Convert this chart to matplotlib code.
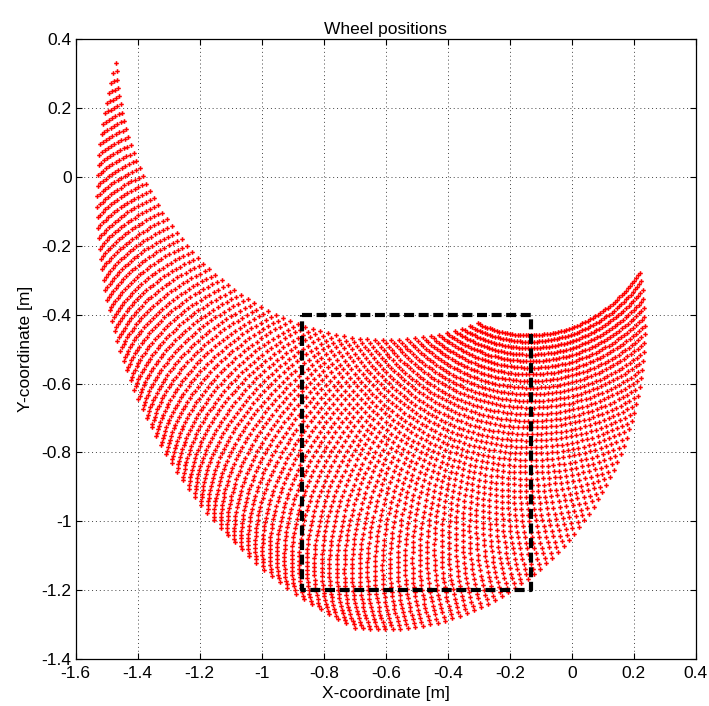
import numpy as np
import matplotlib
matplotlib.use("Agg")
import matplotlib.pyplot as plt

# two-link leg: hip position, link lengths [m]
hip_xy = [-0.1909, -0.0407]
link_len = [0.5729, 0.8586]
# link angles [rad] = c0 + c1*s + c2*t, with s, t swept 0..1
thigh_coef = [2.3951, 1.5623, -0.1110]
shank_coef = [3.1608, 1.4173, 1.8624]
n_steps = [66, 65]

# required wheel area (dashed box)
box_x = [-0.87, -0.13]
box_y = [-1.2, -0.4]

xticks = [-1.6, -1.4, -1.2, -1.0, -0.8, -0.6, -0.4, -0.2, 0.0, 0.2, 0.4]
xlabels = ["-1.6", "-1.4", "-1.2", "-1", "-0.8", "-0.6", "-0.4", "-0.2", "0", "0.2", "0.4"]
yticks = [-1.4, -1.2, -1.0, -0.8, -0.6, -0.4, -0.2, 0.0, 0.2, 0.4]
ylabels = ["-1.4", "-1.2", "-1", "-0.8", "-0.6", "-0.4", "-0.2", "0", "0.2", "0.4"]

plt.rcParams['font.family'] = ['Liberation Sans', 'DejaVu Sans']

s, t = np.meshgrid(np.linspace(0, 1, n_steps[0]), np.linspace(0, 1, n_steps[1]))
th1 = thigh_coef[0] + thigh_coef[1] * s + thigh_coef[2] * t
th2 = shank_coef[0] + shank_coef[1] * s + shank_coef[2] * t
wx = hip_xy[0] + link_len[0] * np.cos(th1) + link_len[1] * np.cos(th2)
wy = hip_xy[1] + link_len[0] * np.sin(th1) + link_len[1] * np.sin(th2)

fig = plt.figure(figsize=(7.09, 7.06), dpi=100)
ax = fig.add_axes([0.1068, 0.0666, 0.8745, 0.8775])

ax.plot(wx.ravel(), wy.ravel(), 'P', color='red', ms=3.3, mew=0, ls='none')
ax.plot([box_x[0], box_x[1], box_x[1], box_x[0], box_x[0]],
        [box_y[1], box_y[1], box_y[0], box_y[0], box_y[1]],
        color='black', lw=3, ls=(0, (2.4, 1.1)))

ax.set_xlim(-1.6, 0.4)
ax.set_ylim(-1.4, 0.4)
ax.set_xticks(xticks)
ax.set_xticklabels(xlabels)
ax.set_yticks(yticks)
ax.set_yticklabels(ylabels)
ax.tick_params(direction='in', length=4, width=0.8, labelsize=12.5, top=True, right=True)
ax.tick_params(axis='x', pad=5)
ax.tick_params(axis='y', pad=3)
ax.grid(True, ls=(0, (1, 3)), color='#444444', lw=0.7)
for sp in ax.spines.values():
    sp.set_linewidth(0.9)

ax.set_title("Wheel positions", fontsize=12.5, pad=4)
ax.set_xlabel("X-coordinate [m]", fontsize=12.5, labelpad=4)
ax.set_ylabel("Y-coordinate [m]", fontsize=12.5, labelpad=6)

fig.savefig("out.png", dpi=100)
